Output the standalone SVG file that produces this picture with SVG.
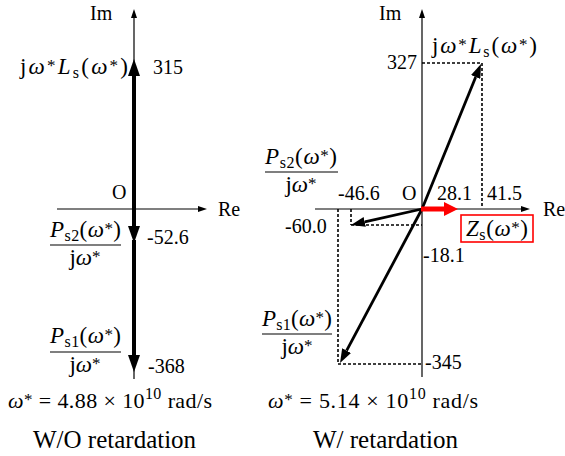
<svg xmlns="http://www.w3.org/2000/svg" width="565" height="456" viewBox="0 0 565 456">
<style>
text{font-family:"Liberation Serif","Times New Roman",Times,Tinos,"Nimbus Roman","Noto Serif","DejaVu Serif",FreeSerif,serif;fill:#000}
.n{font-size:20px}
.m{font-size:23px}
.eq{font-size:22px}
.big{font-size:25px}
.i{font-style:italic}
.sb{font-size:16px}
.sp{font-size:17px}
.ax{stroke:#000;stroke-width:1.2;fill:none}
.thick{stroke:#000;stroke-width:4;fill:none}
.vec{stroke:#000;stroke-width:2.8;fill:none}
.red{stroke:#f00;stroke-width:5;fill:none}
.dot{stroke:#000;stroke-width:1.6;stroke-dasharray:3 2;fill:none}
.bar{stroke:#000;stroke-width:1.1}
</style>
<defs>
<marker id="ha" markerUnits="userSpaceOnUse" markerWidth="10" markerHeight="6" refX="0" refY="3" orient="auto"><path d="M0,0 L9,3 L0,6 z" fill="#000"/></marker>
<marker id="hb" markerUnits="userSpaceOnUse" markerWidth="18" markerHeight="12" refX="0" refY="6" orient="auto"><path d="M0,0 L17,6 L0,12 z" fill="#000"/></marker>
<marker id="hv" markerUnits="userSpaceOnUse" markerWidth="15" markerHeight="10" refX="0" refY="5" orient="auto"><path d="M0,0 L14,5 L0,10 z" fill="#000"/></marker>
<marker id="hr" markerUnits="userSpaceOnUse" markerWidth="15" markerHeight="14" refX="0" refY="7" orient="auto"><path d="M0,0 L14,7 L0,14 z" fill="#f00"/></marker>
</defs>

<g id="connectors">
<line class="ax" x1="134" y1="379" x2="134" y2="18" marker-end="url(#ha)"/>
<line class="ax" x1="57" y1="209" x2="198" y2="209" marker-end="url(#ha)"/>
<line class="thick" x1="134" y1="209" x2="134" y2="76" marker-end="url(#hb)"/>
<line class="thick" x1="134" y1="207" x2="134" y2="226" marker-end="url(#hb)"/>
<line class="thick" x1="134" y1="240" x2="134" y2="355" marker-end="url(#hb)"/>
<line class="ax" x1="422" y1="377" x2="422" y2="18" marker-end="url(#ha)"/>
<line class="ax" x1="315" y1="209" x2="521" y2="209" marker-end="url(#ha)"/>
<line class="dot" x1="422" y1="63" x2="481" y2="63"/>
<line class="dot" x1="482" y1="63" x2="482" y2="207"/>
<line class="dot" x1="338" y1="209" x2="338" y2="364"/>
<line class="dot" x1="351" y1="209" x2="351" y2="225"/>
<line class="dot" x1="351" y1="225" x2="422" y2="225"/>
<line class="dot" x1="338" y1="364" x2="422" y2="364"/>
<line class="vec" x1="422" y1="209" x2="475.7" y2="77" marker-end="url(#hv)"/>
<line class="vec" x1="422" y1="209" x2="346.6" y2="350.6" marker-end="url(#hv)"/>
<line class="vec" x1="422" y1="209" x2="364.7" y2="221.9" marker-end="url(#hv)"/>
<line class="red" x1="421" y1="209" x2="444" y2="209" marker-end="url(#hr)"/>
</g>

<g id="left-labels">
<text class="n" x="90" y="20">Im</text>
<text class="m" x="20" y="74" textLength="108">j<tspan class="i">ω</tspan><tspan class="sp" dy="-3">*</tspan><tspan class="i" dy="3">L</tspan><tspan class="sb" dy="4">s</tspan><tspan dy="-4">(</tspan><tspan class="i">ω</tspan><tspan class="sp" dy="-3">*</tspan><tspan dy="3">)</tspan></text>
<text class="n" x="153" y="74">315</text>
<text class="n" x="112" y="199">O</text>
<text class="n" x="218" y="216">Re</text>
<text class="n" x="147" y="244">-52.6</text>
<text class="n" x="148" y="373">-368</text>
</g>

<g id="left-ps2">
<text class="m" x="50" y="237" textLength="71"><tspan class="i">P</tspan><tspan class="sb" dy="4">s2</tspan><tspan dy="-4">(</tspan><tspan class="i">ω</tspan><tspan class="sp" dy="-3">*</tspan><tspan dy="3">)</tspan></text>
<line class="bar" x1="50" y1="245" x2="121" y2="245"/>
<text class="m" x="85" y="265" text-anchor="middle">j<tspan class="i">ω</tspan><tspan class="sp" dy="-3">*</tspan></text>
</g>

<g id="left-ps1">
<text class="m" x="50" y="343" textLength="71"><tspan class="i">P</tspan><tspan class="sb" dy="4">s1</tspan><tspan dy="-4">(</tspan><tspan class="i">ω</tspan><tspan class="sp" dy="-3">*</tspan><tspan dy="3">)</tspan></text>
<line class="bar" x1="50" y1="352" x2="121" y2="352"/>
<text class="m" x="85" y="372" text-anchor="middle">j<tspan class="i">ω</tspan><tspan class="sp" dy="-3">*</tspan></text>
</g>

<g id="right-labels">
<text class="n" x="379" y="20">Im</text>
<text class="m" x="432" y="53" textLength="105">j<tspan class="i">ω</tspan><tspan class="sp" dy="-3">*</tspan><tspan class="i" dy="3">L</tspan><tspan class="sb" dy="4">s</tspan><tspan dy="-4">(</tspan><tspan class="i">ω</tspan><tspan class="sp" dy="-3">*</tspan><tspan dy="3">)</tspan></text>
<text class="n" x="387" y="69">327</text>
<text class="n" x="338" y="200">-46.6</text>
<text class="n" x="402" y="200">O</text>
<text class="n" x="437" y="200">28.1</text>
<text class="n" x="487" y="200">41.5</text>
<text class="n" x="543" y="216">Re</text>
<text class="n" x="285" y="233">-60.0</text>
<text class="n" x="423" y="262">-18.1</text>
<text class="n" x="425" y="369">-345</text>
</g>

<g id="right-ps2">
<text class="m" x="265" y="164" textLength="72"><tspan class="i">P</tspan><tspan class="sb" dy="4">s2</tspan><tspan dy="-4">(</tspan><tspan class="i">ω</tspan><tspan class="sp" dy="-3">*</tspan><tspan dy="3">)</tspan></text>
<line class="bar" x1="265" y1="172" x2="338" y2="172"/>
<text class="m" x="301" y="192" text-anchor="middle">j<tspan class="i">ω</tspan><tspan class="sp" dy="-3">*</tspan></text>
</g>

<g id="right-ps1">
<text class="m" x="262" y="326" textLength="70"><tspan class="i">P</tspan><tspan class="sb" dy="4">s1</tspan><tspan dy="-4">(</tspan><tspan class="i">ω</tspan><tspan class="sp" dy="-3">*</tspan><tspan dy="3">)</tspan></text>
<line class="bar" x1="262" y1="334" x2="332" y2="334"/>
<text class="m" x="297" y="354" text-anchor="middle">j<tspan class="i">ω</tspan><tspan class="sp" dy="-3">*</tspan></text>
</g>

<g id="zs">
<rect x="461" y="215" width="72" height="27" fill="#fff" stroke="#f00" stroke-width="1.6"/>
<text class="m" x="466" y="236" textLength="62"><tspan class="i">Z</tspan><tspan class="sb" dy="4">s</tspan><tspan dy="-4">(</tspan><tspan class="i">ω</tspan><tspan class="sp" dy="-3">*</tspan><tspan dy="3">)</tspan></text>
</g>

<g id="captions">
<text class="eq" x="8" y="408" textLength="204"><tspan class="i">ω</tspan><tspan class="sp" dy="-3">*</tspan><tspan dy="3"> = 4.88 × 10</tspan><tspan class="sb" dy="-9">10</tspan><tspan dy="9"> rad/s</tspan></text>
<text class="big" x="33" y="448">W/O retardation</text>
<text class="eq" x="268" y="408" textLength="210"><tspan class="i">ω</tspan><tspan class="sp" dy="-3">*</tspan><tspan dy="3"> = 5.14 × 10</tspan><tspan class="sb" dy="-9">10</tspan><tspan dy="9"> rad/s</tspan></text>
<text class="big" x="313" y="448">W/ retardation</text>
</g>
</svg>
